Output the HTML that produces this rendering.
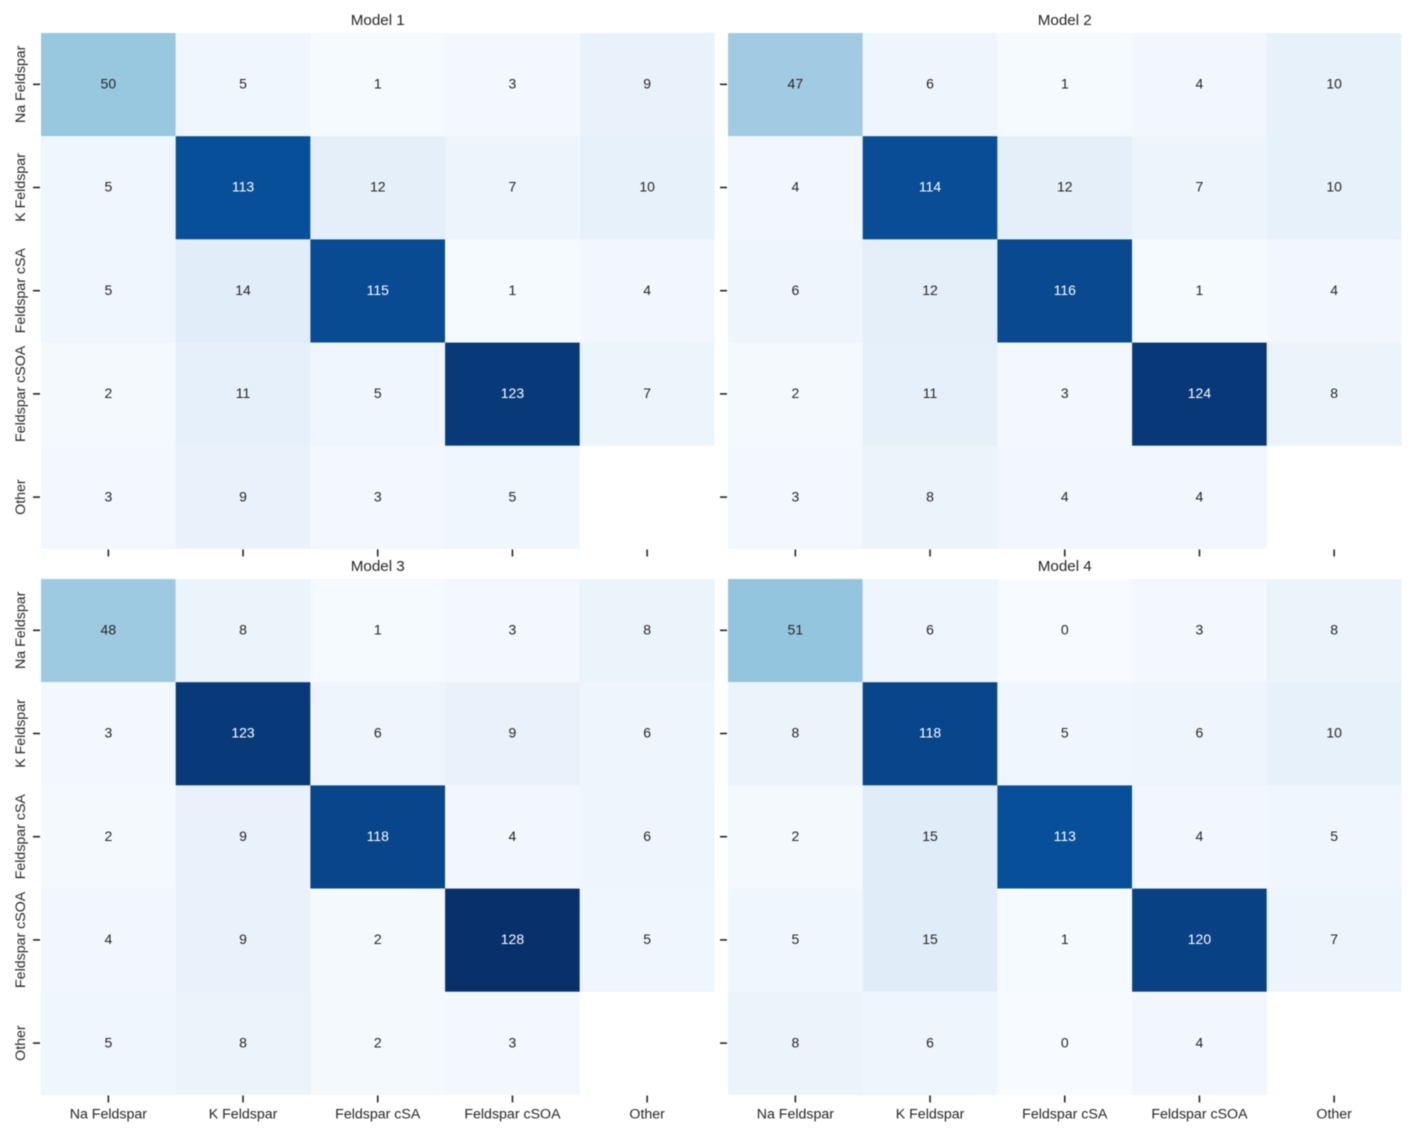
<!DOCTYPE html>
<html lang="en">
<head>
<meta charset="utf-8">
<title>Confusion matrices for four models</title>
<style>
html,body{margin:0;padding:0;background:#fff;}
body{width:1416px;height:1136px;overflow:hidden;}
svg{display:block;filter:blur(0.4px);}
text{font-family:"Liberation Sans",Arial,sans-serif;}
</style>
</head>
<body>
<svg id="chart" xmlns="http://www.w3.org/2000/svg" width="1416" height="1136" viewBox="0 0 1416 1136"></svg>
<script>
const categories = ["Na Feldspar", "K Feldspar", "Feldspar cSA", "Feldspar cSOA", "Other"];
const modelTitles = ["Model 1", "Model 2", "Model 3", "Model 4"];
const model1Values = [
  [50, 5, 1, 3, 9],
  [5, 113, 12, 7, 10],
  [5, 14, 115, 1, 4],
  [2, 11, 5, 123, 7],
  [3, 9, 3, 5, null]
];
const model2Values = [
  [47, 6, 1, 4, 10],
  [4, 114, 12, 7, 10],
  [6, 12, 116, 1, 4],
  [2, 11, 3, 124, 8],
  [3, 8, 4, 4, null]
];
const model3Values = [
  [48, 8, 1, 3, 8],
  [3, 123, 6, 9, 6],
  [2, 9, 118, 4, 6],
  [4, 9, 2, 128, 5],
  [5, 8, 2, 3, null]
];
const model4Values = [
  [51, 6, 0, 3, 8],
  [8, 118, 5, 6, 10],
  [2, 15, 113, 4, 5],
  [5, 15, 1, 120, 7],
  [8, 6, 0, 4, null]
];
const colorMax = 128;

const svgNS = "http://www.w3.org/2000/svg";
const chart = document.getElementById("chart");
const blues = ["#f7fbff","#deebf7","#c6dbef","#9ecae1","#6baed6","#4292c6","#2171b5","#08519c","#08306b"];

function hexToRgb(h){
  return [parseInt(h.slice(1,3),16), parseInt(h.slice(3,5),16), parseInt(h.slice(5,7),16)];
}
function colorFor(v){
  const t = Math.max(0, Math.min(1, v / colorMax)) * (blues.length - 1);
  const i = Math.min(Math.floor(t), blues.length - 2);
  const f = t - i;
  const a = hexToRgb(blues[i]);
  const b = hexToRgb(blues[i + 1]);
  return "rgb(" + a.map((c, k) => Math.round(c + (b[k] - c) * f)).join(",") + ")";
}
function textColorFor(v){
  return v / colorMax > 0.62 ? "#ffffff" : "#262626";
}
function make(tag, attrs, parent){
  const el = document.createElementNS(svgNS, tag);
  for (const k in attrs) el.setAttribute(k, attrs[k]);
  parent.appendChild(el);
  return el;
}
function slug(s){
  return s.toLowerCase().replace(/\s+/g, "-");
}

const panelW = 673.5;
const panelH = 516;
const tickLen = 7;
const tickColor = "#262626";
const labelColor = "#262626";
const labelSize = 14.2;
const titleSize = 15.2;
const valueSize = 14;

function drawPanel(title, values, left, top, showXLabels){
  const nRows = categories.length;
  const nCols = categories.length;
  const xScale = c => left + c * panelW / nCols;
  const yScale = r => top + r * panelH / nRows;

  const g = make("g", {}, chart);
  
  

  const t = make("text", {x: left + panelW / 2, y: top - 8, "text-anchor": "middle", "font-size": titleSize, fill: labelColor}, g);
  t.textContent = title;
  
  

  values.forEach((row, r) => {
    row.forEach((v, c) => {
      if (v === null) return;
      const x0 = xScale(c), x1 = xScale(c + 1), y0 = yScale(r), y1 = yScale(r + 1);
      const rect = make("rect", {x: x0, y: y0, width: x1 - x0, height: y1 - y0, fill: colorFor(v)}, g);
      
      
      const label = make("text", {x: (x0 + x1) / 2, y: (y0 + y1) / 2 + 3.9, "text-anchor": "middle", "font-size": valueSize, fill: textColorFor(v)}, g);
      label.textContent = String(v);
      
      
    });
  });

  categories.forEach((name, r) => {
    const y = yScale(r + 0.5) - 0.3;
    const tick = make("line", {x1: left - 8, x2: left - 1, y1: y, y2: y, stroke: tickColor, "stroke-width": 1.6}, g);
    
    
    if (left < 100) {
      const yl = make("text", {x: 0, y: 0, transform: "translate(25 " + y + ") rotate(-90)", "text-anchor": "middle", "font-size": labelSize, fill: labelColor}, g);
      yl.textContent = name;
      
      
    }
  });

  categories.forEach((name, c) => {
    const x = xScale(c + 0.5);
    const tick = make("line", {x1: x, x2: x, y1: top + panelH + 0.5, y2: top + panelH + tickLen + 0.5, stroke: tickColor, "stroke-width": 1.6}, g);
    
    
    if (showXLabels) {
      const xl = make("text", {x: x, y: top + panelH + 23.7, "text-anchor": "middle", "font-size": labelSize, fill: labelColor}, g);
      xl.textContent = name;
      
      
    }
  });
}

drawPanel(modelTitles[0], model1Values, 41, 33, false);
drawPanel(modelTitles[1], model2Values, 728, 33, false);
drawPanel(modelTitles[2], model3Values, 41, 579, true);
drawPanel(modelTitles[3], model4Values, 728, 579, true);
</script>
</body>
</html>
